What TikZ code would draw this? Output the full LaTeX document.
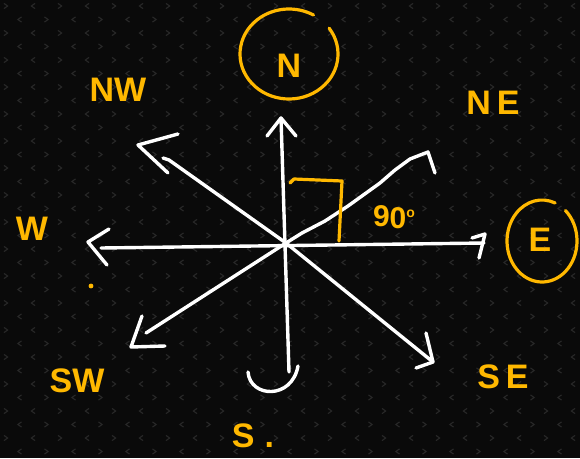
\documentclass[tikz,border=0pt]{standalone}
\usepackage{fontspec}
\setmainfont{Liberation Sans}
\definecolor{bg}{RGB}{10,10,10}
\definecolor{pat}{RGB}{40,40,40}
\definecolor{orng}{RGB}{255,184,0}
\begin{document}
\begin{tikzpicture}[x=1pt,y=-1pt,
  stroke/.style={white,line width=3.4pt,line cap=round,line join=round},
  hand/.style={draw=orng,line width=3.2pt,line cap=round,line join=round},
  lbl/.style={text=orng,inner sep=0pt,font=\bfseries\fontsize{34}{34}\selectfont}]
\fill[bg] (0,0) rectangle (580,458);
\useasboundingbox (0,0) rectangle (580,458);
% subtle chevron background pattern
\foreach \j in {0,...,34}{
  \foreach \i in {0,...,22}{
    \pgfmathsetmacro\xx{\i*27+mod(\j,2)*13.5+6}
    \pgfmathsetmacro\yy{\j*13.5+6}
    \pgfmathsetmacro\dd{ifthenelse(mod(\i+\j,2)==0,1,-1)}
    \draw[pat,line width=1.1pt] (\xx-2*\dd,\yy-2.6) -- (\xx+1.6*\dd,\yy) -- (\xx-2*\dd,\yy+2.6);
  }}
% key points
\coordinate (c) at (286,243);
\coordinate (ntip) at (281,118);
\coordinate (send) at (289,372);
\coordinate (wend) at (101,248);
\coordinate (wtip) at (88,242);
\coordinate (eend) at (484,243);
\coordinate (etip) at (485,234);
\coordinate (netip) at (428,152);
\coordinate (swend) at (146,333);
\coordinate (swtip) at (131,347);
\coordinate (nwend) at (163,158);
\coordinate (nwtip) at (138,145);
\coordinate (setip) at (433,362);
% N-S
\draw[stroke] (send) -- (ntip);
\draw[stroke] (267,136) -- (ntip) -- (296,136);
\draw[stroke] (248,372) .. controls (250,398) and (292,400) .. (298,366);
% W-E
\draw[stroke] (wend) -- (eend);
\draw[stroke] (109,229) -- (wtip) -- (107,265);
\draw[stroke] (472,238) -- (etip) -- (479,258);
% SW-NE
\draw[stroke] (swend) -- (c) -- (302,233) -- (325,221) -- (348,206) -- (380,183) -- (395,170) -- (410,159) -- (netip) -- (435,173);
\draw[stroke] (142,316) -- (swtip) -- (165,346);
% NW-SE
\draw[stroke] (nwend) -- (169,160) -- (c) -- (setip);
\draw[stroke] (178,134) -- (nwtip) -- (168,173);
\draw[stroke] (426,333) -- (setip) -- (416,368);
% right angle mark
\draw[hand] (290,183) -- (294,179) -- (342,181) -- (339,241);
% labels
\node[lbl,font=\bfseries\fontsize{30}{30}\selectfont] (deg) at (394,217) {9\raisebox{-2pt}{0}\raisebox{9pt}{\fontsize{14}{14}\selectfont o}};
\coordinate (nc) at (289,54);
\draw[hand] ([shift={(-35:49 and 45)}]nc) arc[start angle=-35,end angle=300,x radius=49,y radius=45];
\node[lbl] (N) at (289,66) {N};
\coordinate (ec) at (542,241);
\draw[hand] ([shift={(-48:35 and 41)}]ec) arc[start angle=-48,end angle=292,x radius=35,y radius=41];
\node[lbl] (E) at (540,240) {E};
\node[lbl] (NW) at (118,90) {NW};
\node[lbl] (NE) at (493,103) {N\hspace{6pt}E};
\node[lbl] (W) at (32,229) {W};
\node[lbl] (SW) at (77,381) {SW};
\node[lbl] (S) at (253,436) {S\hspace{10pt}.};
\node[lbl] (SE) at (503,377) {S\hspace{6pt}E};
\fill[orng] (91,286) circle (2.4);
\end{tikzpicture}
\end{document}
